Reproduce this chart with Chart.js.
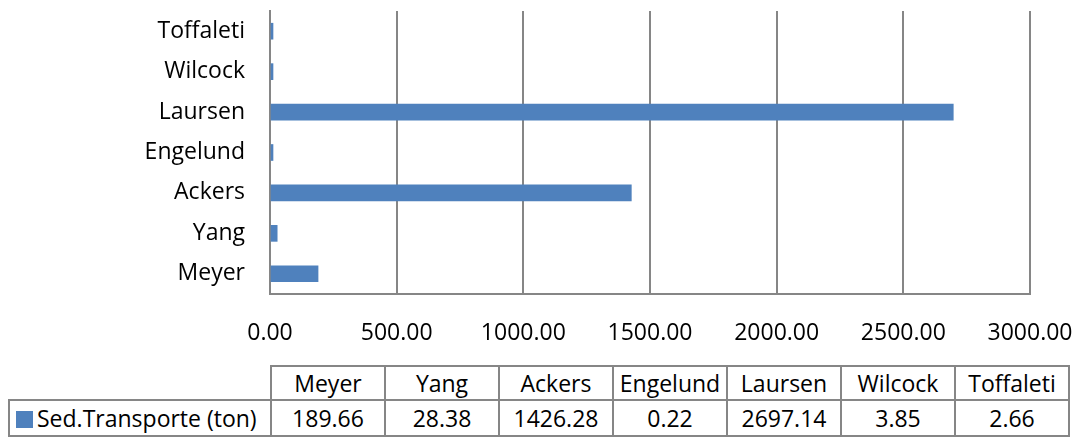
<!DOCTYPE html>
<html>
<head>
<meta charset="utf-8">
<script src="https://cdn.jsdelivr.net/npm/chart.js@4"></script>
<style>
  body { margin: 0; background: #fff; font-family: "Open Sans", sans-serif; }
  #wrap { position: absolute; left: 0; top: 0; width: 1080px; height: 350px; }
  #dataTable {
    position: absolute; left: 8px; top: 365px;
    border-collapse: collapse; table-layout: fixed;
    font-size: 23px; color: #000;
  }
  #dataTable td { border: 2px solid #868686; text-align: center; padding: 0; }
  #dataTable tr.head td { height: 30px; }
  #dataTable tr.vals td { height: 34px; }
  #dataTable td.blank { border-top: none; border-left: none; }
  #dataTable td.series { text-align: left; padding-left: 6px; white-space: nowrap; }
  .key { display: inline-block; width: 17px; height: 17px; background: #4F81BD; margin-right: 4px; vertical-align: -1px; }
</style>
</head>
<body>
<div id="wrap"><canvas id="chart"></canvas></div>
<table id="dataTable"></table>
<script>
const categories = ['Meyer', 'Yang', 'Ackers', 'Engelund', 'Laursen', 'Wilcock', 'Toffaleti'];
const sedTransporte = [189.66, 28.38, 1426.28, 0.22, 2697.14, 3.85, 2.66];
const seriesName = 'Sed.Transporte (ton)';
const xTicks = [0, 500, 1000, 1500, 2000, 2500, 3000];

const gray = '#868686';
const blue = '#4F81BD';
const font = { family: '"Open Sans", sans-serif', size: 23 };

new Chart(document.getElementById('chart'), {
  type: 'bar',
  data: {
    labels: categories,
    datasets: [{
      label: seriesName,
      data: sedTransporte,
      backgroundColor: blue,
      barThickness: 16,
      minBarLength: 3
    }]
  },
  options: {
    indexAxis: 'y',
    responsive: true,
    maintainAspectRatio: false,
    animation: false,
    layout: { padding: { top: 11, right: 50, left: 0, bottom: 0 } },
    plugins: { legend: { display: false }, tooltip: { enabled: false } },
    scales: {
      x: {
        min: 0, max: 3000,
        afterBuildTicks: s => { s.ticks = xTicks.map(v => ({ value: v })); },
        afterFit: s => {
          s.height = 56;
          s.paddingLeft = 0; s.paddingRight = 0;
        },
        grid: { color: gray, lineWidth: 2, drawTicks: false },
        border: { color: gray, width: 2 },
        ticks: { color: '#000', font, padding: 26, maxRotation: 0,
                 callback: v => Number(v).toFixed(2) }
      },
      y: {
        reverse: true,
        afterFit: s => {
          s.width = 270;
          s.paddingTop = 0; s.paddingBottom = 0;
        },
        grid: { display: false, drawTicks: false },
        border: { color: gray, width: 2 },
        ticks: { color: '#000', font, padding: 25 }
      }
    }
  }
});

// data table under the chart
const table = document.getElementById('dataTable');
const colgroup = document.createElement('colgroup');
const first = document.createElement('col');
first.style.width = '262px';
colgroup.appendChild(first);
categories.forEach(() => {
  const c = document.createElement('col');
  c.style.width = '114px';
  colgroup.appendChild(c);
});
table.appendChild(colgroup);

const head = document.createElement('tr');
head.className = 'head';
const blank = document.createElement('td');
blank.className = 'blank';
head.appendChild(blank);
categories.forEach(name => {
  const td = document.createElement('td');
  td.textContent = name;
  head.appendChild(td);
});
table.appendChild(head);

const vals = document.createElement('tr');
vals.className = 'vals';
const series = document.createElement('td');
series.className = 'series';
series.innerHTML = '<span class="key"></span>';
series.appendChild(document.createTextNode(seriesName));
vals.appendChild(series);
sedTransporte.forEach(v => {
  const td = document.createElement('td');
  td.textContent = v.toFixed(2);
  vals.appendChild(td);
});
table.appendChild(vals);
</script>
</body>
</html>
